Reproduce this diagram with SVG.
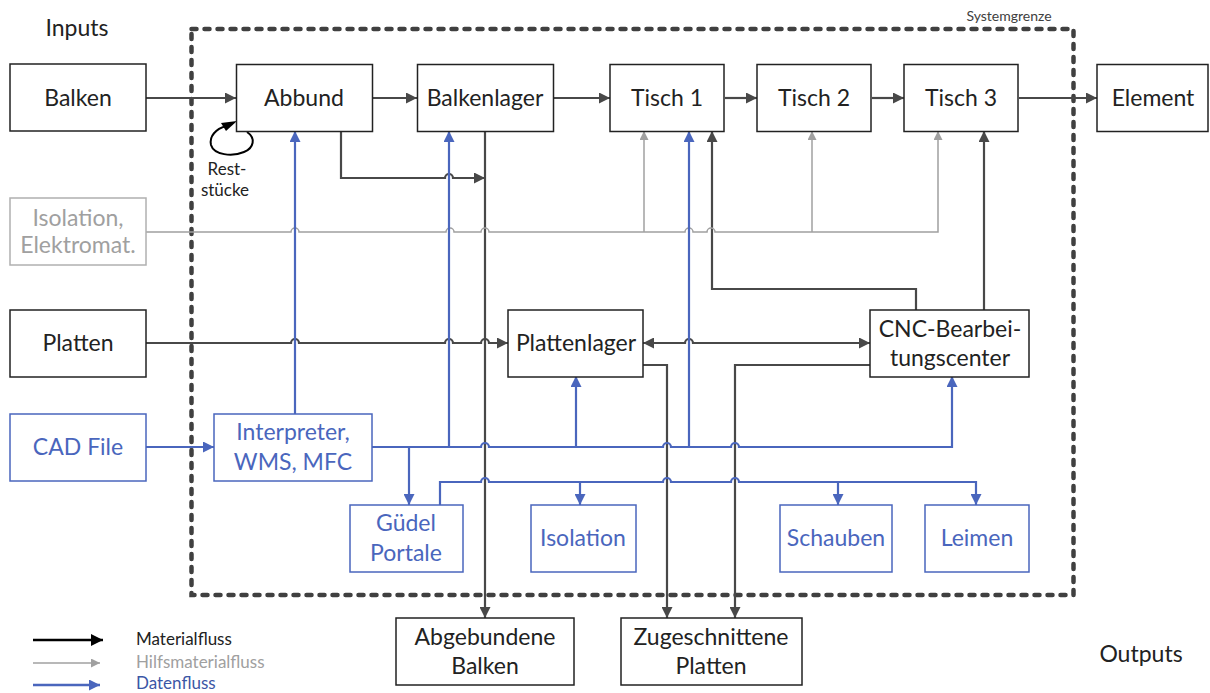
<svg xmlns="http://www.w3.org/2000/svg" width="1210" height="693" viewBox="0 0 1210 693">
<style>
  text { font-family: Lato, "Liberation Sans", sans-serif; }
  .box { fill: #fff; stroke: #222; stroke-width: 1.5; }
  .gbox { fill: #fff; stroke: #b0b0b0; stroke-width: 1.5; }
  .bbox { fill: #fff; stroke: #4A66BD; stroke-width: 1.5; }
  .t { font-size: 23px; fill: #222; text-anchor: middle; }
  .tg { font-size: 23px; fill: #a0a0a0; text-anchor: middle; }
  .tb { font-size: 23px; fill: #4A66BD; text-anchor: middle; }
  .mat { fill: none; stroke: #484848; stroke-width: 2.2; }
  .aux { fill: none; stroke: #a0a0a0; stroke-width: 1.5; }
  .dat { fill: none; stroke: #4A66BD; stroke-width: 2.2; }
  .ma { marker-end: url(#am); }
  .aa { marker-end: url(#ag); }
  .da { marker-end: url(#ab); }
</style>
<defs>
  <marker id="am" viewBox="0 0 10 10" refX="10" refY="5" markerWidth="13" markerHeight="11" markerUnits="userSpaceOnUse" orient="auto-start-reverse"><path d="M0,0 L10,5 L0,10 z" fill="#484848"/></marker>
  <marker id="ag" viewBox="0 0 10 10" refX="10" refY="5" markerWidth="11" markerHeight="9" markerUnits="userSpaceOnUse" orient="auto-start-reverse"><path d="M0,0 L10,5 L0,10 z" fill="#a0a0a0"/></marker>
  <marker id="ab" viewBox="0 0 10 10" refX="10" refY="5" markerWidth="13" markerHeight="11" markerUnits="userSpaceOnUse" orient="auto-start-reverse"><path d="M0,0 L10,5 L0,10 z" fill="#4A66BD"/></marker>
  <marker id="ak" viewBox="0 0 10 10" refX="10" refY="5" markerWidth="14" markerHeight="12" markerUnits="userSpaceOnUse" orient="auto-start-reverse"><path d="M0,0 L10,5 L0,10 z" fill="#000"/></marker>
</defs>

<!-- system boundary -->
<g id="systemgrenze">
  <rect x="191.5" y="29" width="882" height="566" fill="none" stroke="#404040" stroke-width="4.5" stroke-dasharray="5 8" stroke-linecap="round"/>
  <text x="1009" y="21" font-size="14" fill="#404040" text-anchor="middle">Systemgrenze</text>
</g>

<g id="labels">
  <text x="77" y="36" font-size="23" fill="#222" text-anchor="middle">Inputs</text>
  <text x="1141" y="662" font-size="23" fill="#222" text-anchor="middle">Outputs</text>
</g>

<!-- connectors -->
<g id="connectors">
  <!-- material flow -->
  <path class="mat ma" d="M146,98 H236"/>
  <path class="mat ma" d="M372,98 H417"/>
  <path class="mat ma" d="M553,98 H610"/>
  <path class="mat ma" d="M725,98 H757"/>
  <path class="mat ma" d="M872,98 H904"/>
  <path class="mat ma" d="M1019,98 H1097"/>
  <path class="mat ma" d="M341,131 V178 H445 a4,4 0 0 1 8,0 H485"/>
  <path class="mat ma" d="M485,131 V618"/>
  <path class="mat ma" d="M146,343 H291 a4,4 0 0 1 8,0 H445 a4,4 0 0 1 8,0 H481 a4,4 0 0 1 8,0 H508"/>
  <path class="mat ma" style="marker-start:url(#am)" d="M643,343 H685 a4,4 0 0 1 8,0 H870"/>
  <path class="mat ma" d="M643,365 H667 V618"/>
  <path class="mat ma" d="M870,365 H735 V618"/>
  <path class="mat ma" d="M916,310 V289 H712 V131"/>
  <path class="mat ma" d="M984,310 V131"/>
  <!-- Reststuecke loop -->
  <path d="M247,132 C256,138 254,148 244,152 C232,157 214,155 211,145 C209,136 216,129 226,126" fill="none" stroke="#000" stroke-width="2"/>
  <path d="M237,121 L226,131 L221,123 z" fill="#000"/>

  <!-- auxiliary material flow -->
  <path class="aux aa" d="M146,232 H291 a4,4 0 0 1 8,0 H446 a4,4 0 0 1 8,0 H481 a4,4 0 0 1 8,0 H685 a4,4 0 0 1 8,0 H707 a4,4 0 0 1 8,0 H938 V131"/>
  <path class="aux aa" d="M644,232 V131"/>
  <path class="aux aa" d="M812,232 V131"/>

  <!-- data flow -->
  <path class="dat da" d="M146,447 H214"/>
  <path class="dat da" d="M295,414 V131"/>
  <path class="dat da" d="M372,447 H481 a4,4 0 0 1 8,0 H663 a4,4 0 0 1 8,0 H731 a4,4 0 0 1 8,0 H952 V376"/>
  <path class="dat da" d="M449,447 V131"/>
  <path class="dat da" d="M576,447 V376"/>
  <path class="dat da" d="M689,447 V131"/>
  <path class="dat da" d="M409,447 V505"/>
  <path class="dat da" d="M440,505 V482 H481 a4,4 0 0 1 8,0 H663 a4,4 0 0 1 8,0 H731 a4,4 0 0 1 8,0 H976 V505"/>
  <path class="dat da" d="M580,482 V505"/>
  <path class="dat da" d="M838,482 V505"/>
</g>

<!-- nodes -->
<g id="balken"><rect class="box" x="10" y="64" width="136" height="67"/><text class="t" x="78" y="106">Balken</text></g>
<g id="abbund"><rect class="box" x="236.5" y="64.5" width="136" height="67"/><text class="t" x="304" y="106">Abbund</text></g>
<g id="balkenlager"><rect class="box" x="417.5" y="64.5" width="136" height="67"/><text class="t" x="485" y="106">Balkenlager</text></g>
<g id="tisch1"><rect class="box" x="610" y="64.5" width="114" height="67"/><text class="t" x="667" y="106">Tisch 1</text></g>
<g id="tisch2"><rect class="box" x="757" y="64.5" width="114" height="67"/><text class="t" x="814" y="106">Tisch 2</text></g>
<g id="tisch3"><rect class="box" x="904" y="64.5" width="114" height="67"/><text class="t" x="961" y="106">Tisch 3</text></g>
<g id="element"><rect class="box" x="1097" y="64.5" width="111" height="67"/><text class="t" x="1153" y="106">Element</text></g>
<g id="isolation-elektromat"><rect class="gbox" x="10" y="198" width="136" height="67"/><text class="tg" x="78" y="226">Isolation,</text><text class="tg" x="78" y="253">Elektromat.</text></g>
<g id="platten"><rect class="box" x="10" y="310" width="136" height="67"/><text class="t" x="78" y="351">Platten</text></g>
<g id="plattenlager"><rect class="box" x="508" y="310" width="135" height="67"/><text class="t" x="576" y="351">Plattenlager</text></g>
<g id="cnc"><rect class="box" x="870" y="310" width="159" height="67"/><text class="t" x="950" y="337">CNC-Bearbei-</text><text class="t" x="950" y="366">tungscenter</text></g>
<g id="cad-file"><rect class="bbox" x="10" y="414" width="136" height="67"/><text class="tb" x="78" y="455">CAD File</text></g>
<g id="interpreter"><rect class="bbox" x="214" y="414" width="158" height="67"/><text class="tb" x="293" y="440">Interpreter,</text><text class="tb" x="293" y="470">WMS, MFC</text></g>
<g id="guedel"><rect class="bbox" x="350" y="505" width="113" height="67"/><text class="tb" x="406" y="531">Güdel</text><text class="tb" x="406" y="561">Portale</text></g>
<g id="isolation"><rect class="bbox" x="531" y="505" width="105" height="67"/><text class="tb" x="583" y="546">Isolation</text></g>
<g id="schauben"><rect class="bbox" x="780" y="505" width="112" height="67"/><text class="tb" x="836" y="546">Schauben</text></g>
<g id="leimen"><rect class="bbox" x="925" y="505" width="104" height="67"/><text class="tb" x="977" y="546">Leimen</text></g>
<g id="abgebundene-balken"><rect class="box" x="396" y="618" width="178" height="67"/><text class="t" x="485" y="645">Abgebundene</text><text class="t" x="485" y="674">Balken</text></g>
<g id="zugeschnittene-platten"><rect class="box" x="621" y="618" width="181" height="67"/><text class="t" x="711" y="645">Zugeschnittene</text><text class="t" x="711" y="674">Platten</text></g>
<g id="reststuecke-label"><text x="227" y="175" font-size="17" fill="#222" text-anchor="middle">Rest-</text><text x="225" y="196" font-size="17" fill="#222" text-anchor="middle">stücke</text></g>

<!-- legend -->
<g id="legend">
  <path d="M33,640 H103" stroke="#000" stroke-width="2.5" fill="none" marker-end="url(#ak)"/>
  <path d="M33,663 H100" stroke="#a0a0a0" stroke-width="1.5" fill="none" marker-end="url(#ag)"/>
  <path d="M33,685 H100" stroke="#4A66BD" stroke-width="2.5" fill="none" marker-end="url(#ab)"/>
  <text x="136" y="645" font-size="17" fill="#222">Materialfluss</text>
  <text x="136" y="668" font-size="17" fill="#a0a0a0">Hilfsmaterialfluss</text>
  <text x="136" y="689" font-size="17" fill="#3B57A6">Datenfluss</text>
</g>
</svg>
